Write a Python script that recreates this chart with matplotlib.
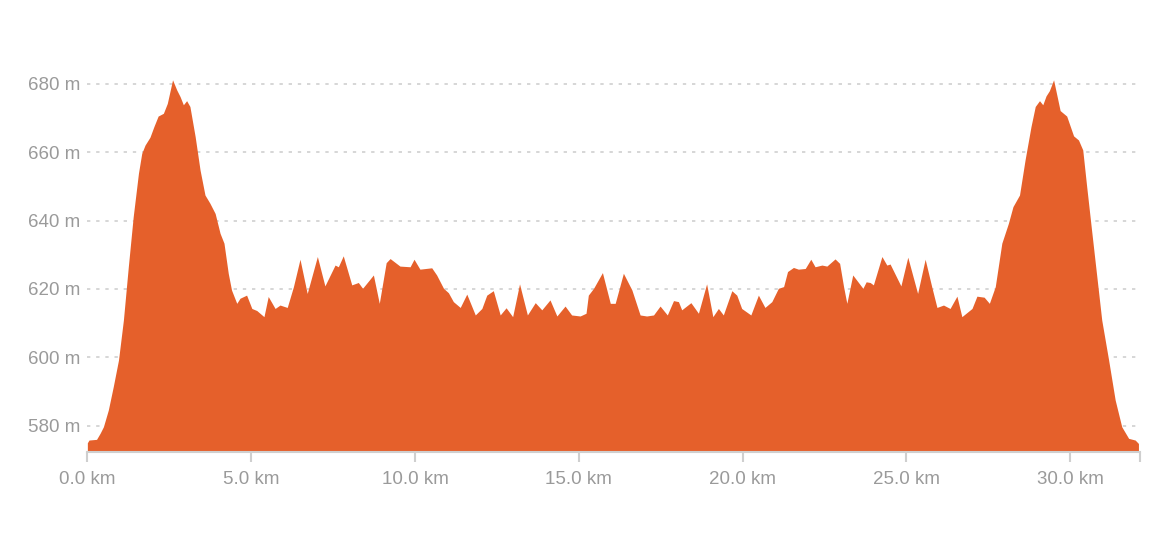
import matplotlib.pyplot as plt
import numpy as np

# distance (km) and elevation (m)
dist_km = [0.0, 0.05, 0.28, 0.39, 0.49, 0.64, 0.79, 0.95, 1.10, 1.25, 1.40, 1.56, 1.66,
           1.76, 1.91, 2.03, 2.16, 2.32, 2.44, 2.60, 2.73, 2.83, 2.93, 3.03, 3.13, 3.29,
           3.44, 3.59, 3.74, 3.90, 4.05, 4.17, 4.30, 4.40, 4.56, 4.66, 4.86, 5.02, 5.17,
           5.39, 5.52, 5.73, 5.88, 6.10, 6.29, 6.49, 6.71, 7.02, 7.25, 7.56, 7.66, 7.81,
           8.07, 8.27, 8.40, 8.73, 8.91, 9.12, 9.24, 9.54, 9.85, 9.97, 10.15, 10.51, 10.66,
           10.87, 11.02, 11.17, 11.38, 11.58, 11.84, 12.04, 12.19, 12.39, 12.60, 12.78,
           12.98, 13.19, 13.43, 13.67, 13.87, 14.12, 14.33, 14.58, 14.78, 15.04, 15.22,
           15.29, 15.45, 15.72, 15.96, 16.11, 16.36, 16.62, 16.87, 17.07, 17.28, 17.48,
           17.70, 17.89, 18.04, 18.14, 18.42, 18.65, 18.90, 19.09, 19.26, 19.41, 19.67,
           19.82, 19.97, 20.25, 20.48, 20.68, 20.89, 21.09, 21.25, 21.37, 21.55, 21.70,
           21.91, 22.08, 22.21, 22.42, 22.57, 22.82, 22.96, 23.08, 23.18, 23.36, 23.67,
           23.77, 23.89, 23.99, 24.25, 24.40, 24.50, 24.83, 25.04, 25.34, 25.57, 25.77,
           25.93, 26.13, 26.33, 26.54, 26.69, 27.00, 27.15, 27.37, 27.53, 27.71, 27.91,
           28.11, 28.25, 28.45, 28.62, 28.80, 28.93, 29.06, 29.16, 29.26, 29.36, 29.49,
           29.69, 29.89, 30.10, 30.25, 30.38, 30.50, 30.66, 30.81, 30.96, 31.17, 31.37,
           31.57, 31.78, 31.98, 32.08]
elev_m = [575.0, 575.8, 576.0, 577.8, 579.7, 584.6, 591.4, 599.2, 610.9, 626.5, 641.2,
          653.9, 659.7, 662.1, 664.4, 667.5, 670.6, 671.4, 674.3, 681.2, 678.2, 676.3,
          673.9, 675.1, 673.4, 664.6, 654.8, 647.5, 645.1, 642.1, 636.3, 633.4, 624.6,
          619.7, 615.8, 617.3, 618.2, 614.3, 613.7, 611.9, 617.8, 614.3, 615.3, 614.6,
          620.7, 628.7, 618.7, 629.5, 620.9, 627.0, 626.5, 629.7, 621.2, 621.9, 620.2,
          624.1, 615.8, 627.7, 628.9, 626.7, 626.5, 628.7, 625.8, 626.2, 624.1, 620.2,
          618.9, 616.3, 614.6, 618.5, 612.4, 614.3, 618.2, 619.5, 612.4, 614.5, 611.9,
          621.5, 612.4, 616.0, 613.9, 616.8, 612.1, 615.0, 612.4, 612.1, 612.9, 618.2,
          620.2, 624.8, 615.8, 615.8, 624.6, 619.7, 612.4, 612.1, 612.4, 615.0, 612.4,
          616.6, 616.3, 613.9, 616.0, 612.9, 621.5, 611.9, 614.3, 612.4, 619.5, 618.2,
          614.3, 612.4, 618.2, 614.6, 616.3, 620.2, 620.7, 625.1, 626.3, 625.8, 626.0,
          628.7, 626.5, 627.0, 626.7, 628.8, 627.5, 620.7, 615.8, 624.1, 620.2, 622.1,
          621.9, 621.2, 629.5, 627.0, 627.3, 620.9, 629.3, 618.7, 628.7, 620.7, 614.6,
          615.3, 614.3, 617.9, 611.9, 614.3, 617.9, 617.6, 615.8, 620.7, 633.4, 639.2,
          644.1, 647.5, 657.8, 667.5, 673.4, 675.1, 673.9, 676.5, 678.0, 681.2, 672.2,
          670.6, 664.8, 663.6, 660.7, 650.0, 636.3, 623.6, 610.9, 599.2, 587.5, 579.7,
          576.3, 575.8, 574.8]

y_ticks = [580, 600, 620, 640, 660, 680]
x_ticks = [0, 5, 10, 15, 20, 25, 30]
end_km = 32.13
base_m = 572.4

fill_col = '#e5602b'
text_col = '#9a9a9a'
axis_col = '#cfcfcf'

plt.rcParams['font.family'] = ['Liberation Sans', 'DejaVu Sans']

fig = plt.figure(figsize=(11.71, 5.59), dpi=100)
ax = fig.add_axes([0.0746, 0.192, 0.899, 0.719])

ax.fill_between(dist_km, elev_m, base_m, color=fill_col, lw=0, zorder=3)

ax.set_xlim(0, end_km)
ax.set_ylim(base_m, 690)

ax.set_yticks(y_ticks)
ax.set_yticklabels([f'{v} m' for v in y_ticks])
ax.set_xticks(x_ticks + [end_km])
ax.set_xticklabels([f'{v:.1f} km' for v in x_ticks] + [''])

ax.grid(axis='y', color=axis_col, linestyle=(0, (2, 3.5)), lw=1.2, zorder=0)
ax.set_axisbelow(True)

for s in ['top', 'right', 'left']:
    ax.spines[s].set_visible(False)
ax.spines['bottom'].set_color(axis_col)
ax.spines['bottom'].set_linewidth(1.5)
ax.spines['bottom'].set_zorder(4)

ax.tick_params(axis='y', length=0, pad=5, labelsize=13.5, labelcolor=text_col)
ax.tick_params(axis='x', length=7, width=1.5, color=axis_col, pad=7,
               labelsize=13.5, labelcolor=text_col)

plt.savefig('out.png', dpi=100)
